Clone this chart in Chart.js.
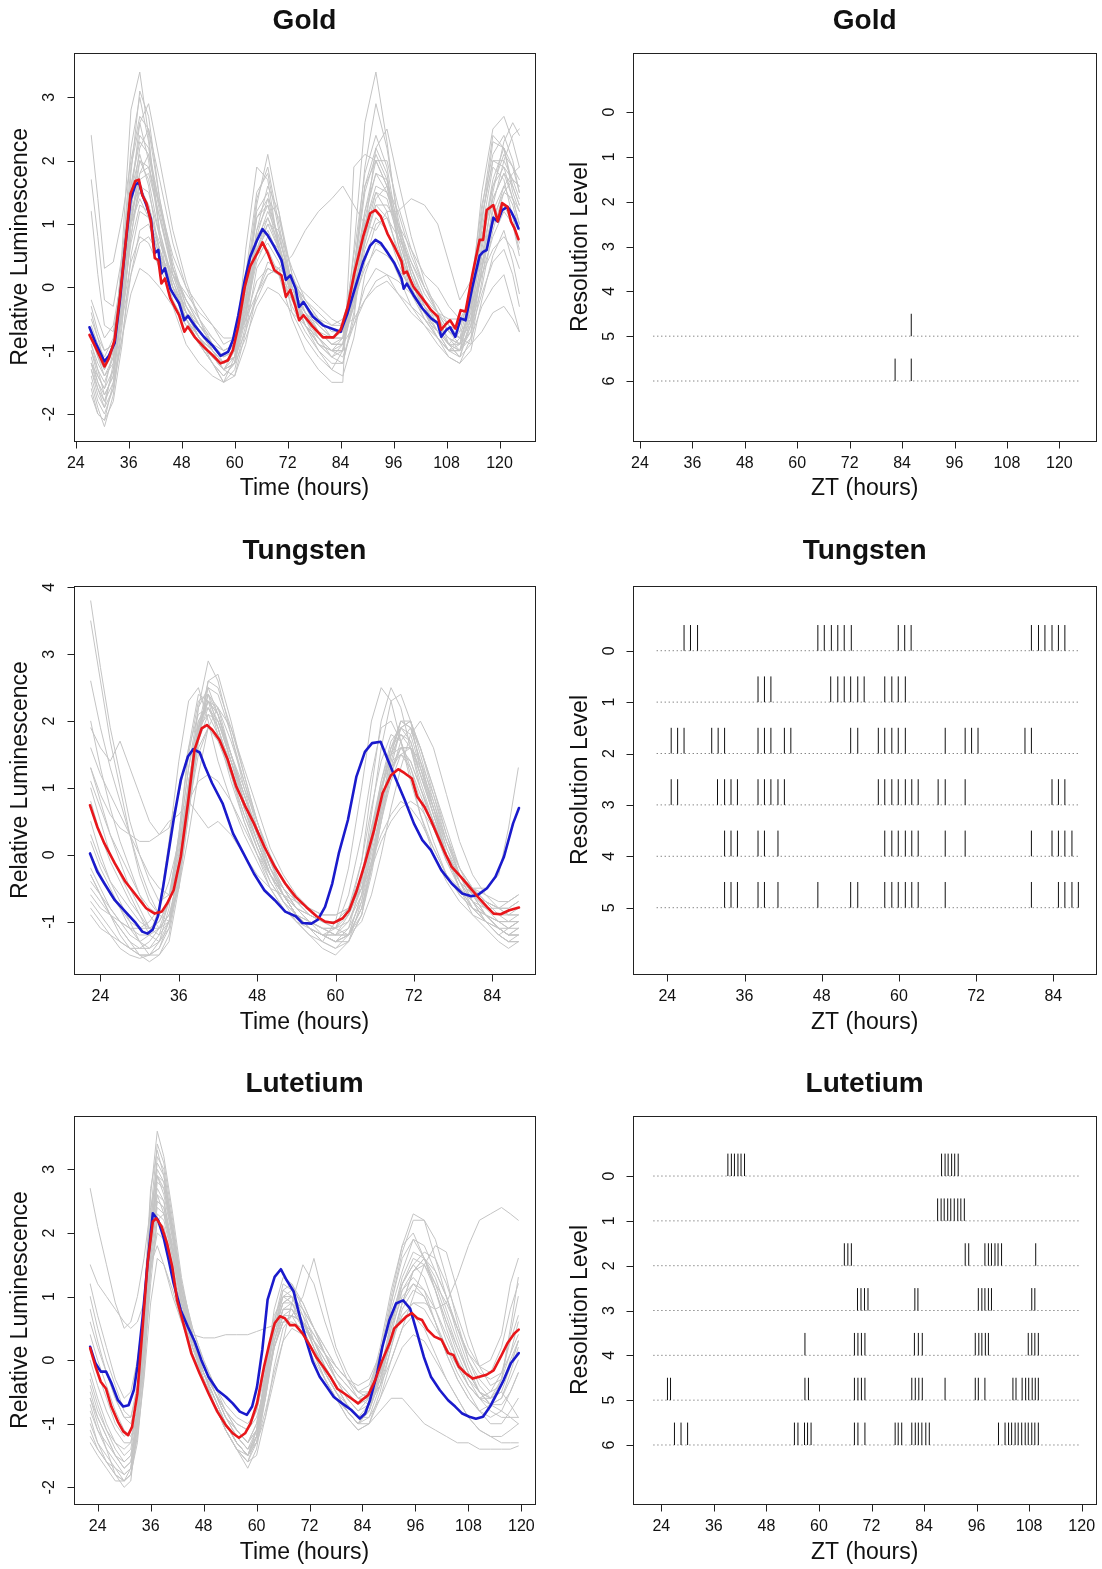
<!DOCTYPE html>
<html>
<head>
<meta charset="utf-8">
<title>Luminescence rhythms and resolution levels</title>
<script src="https://cdn.jsdelivr.net/npm/chart.js@4.4.1/dist/chart.umd.min.js"></script>
<style>
  html, body { margin: 0; padding: 0; background: #ffffff; }
  #figure { position: relative; width: 1102px; height: 1569px; overflow: hidden; }
  #figure canvas { position: absolute; left: 0; top: 0; }
</style>
</head>
<body>
<div id="figure"></div>
<script>
// ---------------- axis tick labels ----------------
const hourTicks120 = [24, 36, 48, 60, 72, 84, 96, 108, 120];
const hourTicks84 = [24, 36, 48, 60, 72, 84];
const lumTicksGold = [-2, -1, 0, 1, 2, 3];
const lumTicksTung = [-1, 0, 1, 2, 3, 4];
const lumTicksLut = [-2, -1, 0, 1, 2, 3];
const levelTicks6 = [0, 1, 2, 3, 4, 5, 6];
const levelTicks5 = [0, 1, 2, 3, 4, 5];

// ---------------- Gold: luminescence traces ----------------
const goldMeanHours = [27.1,28.5,30.5,31.5,32.8,34.0,35.2,36.4,37.5,38.3,39.1,40.0,41.0,41.9,42.7,43.4,44.2,45.4,46.5,47.4,48.6,49.4,50.9,53.0,55.0,56.8,58.5,59.6,60.8,62.3,63.5,65.1,66.3,67.5,69.0,70.6,71.6,72.6,73.8,74.6,75.6,77.7,80.0,82.4,84.0,85.6,87.1,89.1,90.7,91.9,93.1,94.6,96.2,97.8,98.3,99.0,100.5,102.5,104.5,106.0,106.8,108.0,108.8,110.0,111.2,112.3,113.9,115.5,116.3,117.1,118.6,119.6,120.6,121.8,122.6,123.4,124.3];
const goldRed = [-0.75,-0.95,-1.25,-1.12,-0.83,-0.15,0.64,1.48,1.68,1.70,1.45,1.33,1.05,0.46,0.43,0.06,0.14,-0.17,-0.32,-0.44,-0.70,-0.62,-0.78,-0.94,-1.07,-1.20,-1.15,-0.99,-0.62,0.01,0.33,0.54,0.71,0.54,0.27,0.19,-0.15,-0.04,-0.31,-0.52,-0.44,-0.62,-0.79,-0.79,-0.67,-0.31,0.22,0.80,1.17,1.22,1.12,0.85,0.64,0.41,0.22,0.25,0.01,-0.17,-0.36,-0.46,-0.67,-0.57,-0.52,-0.65,-0.36,-0.38,0.22,0.75,0.75,1.22,1.30,1.04,1.33,1.27,1.04,0.93,0.76];
const goldBlue = [-0.63,-0.88,-1.17,-1.08,-0.88,-0.20,0.64,1.38,1.62,1.66,1.46,1.30,1.08,0.54,0.59,0.22,0.30,-0.02,-0.15,-0.25,-0.52,-0.45,-0.60,-0.78,-0.92,-1.08,-1.02,-0.83,-0.45,0.12,0.48,0.75,0.92,0.82,0.64,0.43,0.12,0.19,-0.02,-0.31,-0.23,-0.46,-0.60,-0.66,-0.70,-0.40,-0.05,0.40,0.66,0.75,0.70,0.55,0.38,0.14,-0.02,0.06,-0.12,-0.33,-0.49,-0.56,-0.78,-0.67,-0.63,-0.78,-0.49,-0.52,0.02,0.50,0.56,0.59,1.10,1.04,1.22,1.27,1.20,1.09,0.93];

const goldSampleHours = [27.5,29,30.5,32.5,34.5,36.5,38.5,40.5,43,46,49,52,55,57.5,60,62.5,65,67.5,70,73,76,79,82,84.5,87,89.5,92,94.5,97,100,103,106,108.5,111,113.5,116,118.5,121,123,124.5];
const goldSamples = [
  [-1.3,-1.7,-1.9,-1.2,0.6,2.8,3.4,2.4,0.8,-0.3,-0.9,-1.2,-1.4,-1.5,-1.1,0.6,1.9,1.7,0.6,-0.4,-0.8,-1.1,-1.3,-1.0,0.6,2.6,3.4,2.3,1.0,0.0,-0.5,-0.8,-1.0,-0.9,-0.2,1.5,2.5,2.7,2.3,1.9],
  [-1.0,-1.4,-1.6,-1.0,0.4,2.2,3.0,2.3,0.9,0.1,-0.5,-0.9,-1.2,-1.4,-1.2,0.2,1.5,1.8,0.9,-0.1,-0.6,-0.9,-1.0,-0.8,0.5,1.8,2.4,1.9,0.9,0.2,-0.3,-0.6,-0.9,-1.0,-0.4,1.0,2.3,2.2,1.6,1.3],
  [2.4,1.4,0.3,0.4,1.1,2.0,2.7,2.5,1.4,0.4,-0.3,-0.7,-1.0,-1.2,-1.0,-0.1,1.1,1.3,0.6,-0.2,-0.6,-0.9,-1.0,-0.9,0.2,1.5,2.1,1.7,0.8,0.1,-0.4,-0.7,-0.9,-0.7,0.0,1.3,2.1,2.4,2.0,1.5],
  [1.7,0.8,-0.2,-0.3,0.5,1.6,2.3,2.1,1.2,0.2,-0.4,-0.8,-1.1,-1.3,-1.1,0.0,1.2,1.5,0.7,-0.1,-0.5,-0.9,-1.1,-0.9,0.3,1.6,2.2,1.8,0.7,-0.1,-0.5,-0.8,-1.0,-0.8,-0.1,1.1,2.0,2.0,1.7,1.4],
  [1.2,0.2,-0.6,-0.7,0.1,1.0,1.8,2.1,1.3,0.3,-0.2,-0.6,-0.9,-1.1,-0.9,-0.2,0.8,1.1,0.6,0.0,-0.4,-0.7,-0.8,-0.6,0.2,1.2,1.8,1.5,0.9,0.3,-0.2,-0.5,-0.7,-0.6,-0.2,0.8,1.6,1.9,1.7,1.6],
  [-0.9,-1.2,-1.4,-1.1,-0.4,0.4,0.8,0.7,0.3,-0.1,-0.4,-0.6,-0.8,-1.0,-0.9,-0.5,0.1,0.3,0.2,-0.1,-0.3,-0.5,-0.6,-0.6,-0.2,0.3,0.6,0.5,0.3,0.0,-0.2,-0.4,-0.5,-0.5,-0.3,0.2,0.6,0.8,0.6,0.3],
  [-1.1,-1.5,-1.8,-1.5,-0.8,-0.1,0.3,0.2,0.0,-0.3,-0.6,-0.9,-1.1,-1.3,-1.2,-0.8,-0.3,0.0,-0.1,-0.4,-0.6,-0.8,-1.0,-1.1,-0.6,0.0,0.3,0.2,-0.1,-0.4,-0.6,-0.8,-1.0,-1.0,-0.8,-0.3,0.0,0.2,-0.3,-0.7],
  [-1.3,-1.6,-1.8,-1.3,-0.2,1.0,1.4,1.1,0.5,0.0,-0.3,-0.7,-0.9,-1.0,-0.9,-0.5,-0.1,0.2,0.3,0.5,0.9,1.2,1.4,1.6,1.3,1.0,0.9,1.2,1.2,1.4,1.3,1.0,0.4,-0.2,0.1,0.8,1.4,1.8,1.6,1.3],
  [-1.2,-1.6,-1.9,-1.6,-0.5,0.8,1.6,1.5,0.8,0.1,-0.4,-0.8,-1.1,-1.3,-1.4,-0.7,0.3,0.6,0.2,-0.5,-1.0,-1.3,-1.5,-1.5,1.9,2.1,2.0,1.6,0.9,0.3,-0.3,-0.7,-1.0,-1.1,-0.5,0.7,1.7,2.2,1.9,1.5],
  [-0.6,-0.9,-1.1,-0.8,0.3,1.6,2.4,2.2,1.3,0.3,-0.3,-0.6,-0.9,-1.1,-1.0,-0.2,0.9,1.3,0.8,0.1,-0.3,-0.6,-0.8,-0.7,0.1,1.1,1.8,1.7,1.0,0.4,-0.1,-0.4,-0.7,-0.8,-0.4,0.6,1.6,2.1,1.9,1.7],
  [-0.3,-0.7,-1.0,-0.9,-0.3,0.7,1.3,1.2,0.7,0.2,-0.2,-0.5,-0.8,-1.0,-0.9,-0.4,0.4,0.8,0.6,0.1,-0.2,-0.5,-0.7,-0.7,-0.3,0.4,1.0,1.1,0.8,0.4,0.0,-0.3,-0.6,-0.7,-0.5,0.2,0.8,1.2,1.0,0.5],
  [-1.5,-1.9,-2.2,-1.7,-0.6,1.0,2.0,1.9,1.1,0.2,-0.4,-0.8,-1.2,-1.5,-1.3,-0.6,0.6,1.1,0.7,-0.1,-0.6,-1.0,-1.2,-1.2,-0.4,0.8,1.5,1.4,0.8,0.1,-0.4,-0.8,-1.1,-1.2,-0.8,0.3,1.2,1.6,1.3,0.9],
  [-0.9,-1.3,-1.5,-1.1,0.0,1.3,2.0,1.7,0.8,0.0,-0.5,-0.9,-1.2,-1.4,-1.2,-0.4,0.7,1.2,0.8,0.0,-0.5,-0.8,-1.0,-1.0,-0.2,1.0,1.6,1.5,1.0,0.3,-0.2,-0.6,-0.9,-1.1,-0.6,0.5,1.4,1.8,1.4,1.0],
  [-0.5,-0.8,-1.0,-0.9,-0.5,0.2,0.7,0.8,0.5,0.2,-0.1,-0.4,-0.6,-0.8,-0.8,-0.6,-0.2,0.2,0.3,0.1,-0.1,-0.3,-0.5,-0.6,-0.5,-0.2,0.1,0.2,0.1,-0.1,-0.3,-0.5,-0.7,-0.8,-0.9,-0.7,-0.4,-0.3,-0.5,-0.7],
  [-1.2,-1.4,-1.6,-1.3,-0.3,1.2,2.2,2.5,1.7,0.7,0.0,-0.5,-0.9,-1.2,-1.1,-0.3,0.9,1.6,1.2,0.2,-0.3,-0.7,-0.9,-0.9,0.0,1.2,2.0,2.0,1.3,0.6,0.0,-0.4,-0.7,-0.9,-0.7,0.3,1.5,2.3,2.6,2.4],
  [-0.8,-1.0,-1.3,-1.0,0.2,1.5,2.1,1.6,0.5,-0.2,-0.6,-0.9,-1.1,-1.3,-1.0,0.1,1.1,1.4,0.7,-0.2,-0.6,-0.8,-1.0,-1.0,-0.1,1.0,1.5,1.2,0.5,-0.1,-0.4,-0.6,-0.8,-0.9,-0.3,0.9,1.9,1.7,1.1,0.7],
  [-1.4,-1.8,-2.0,-1.6,-0.8,0.2,0.9,1.0,0.5,-0.1,-0.5,-0.8,-1.0,-1.2,-1.1,-0.7,-0.1,0.3,0.2,-0.2,-0.5,-0.7,-0.9,-0.9,-0.6,-0.2,0.0,0.1,-0.1,-0.3,-0.5,-0.7,-0.9,-1.0,-0.7,-0.1,0.4,0.6,0.2,-0.3],
  [-0.2,-0.5,-0.8,-0.6,0.2,1.1,1.8,1.9,1.3,0.5,0.0,-0.3,-0.6,-0.9,-0.8,-0.2,0.6,1.0,0.6,0.1,-0.2,-0.4,-0.6,-0.5,0.0,0.7,1.3,1.3,1.0,0.6,0.2,0.0,-0.3,-0.5,-0.2,0.5,1.1,1.5,1.4,1.2],
  [-1.6,-2.0,-2.1,-1.5,-0.3,1.4,2.6,2.9,2.0,0.9,0.1,-0.5,-1.0,-1.3,-1.2,-0.5,0.8,1.4,1.1,0.2,-0.4,-0.8,-1.1,-1.2,-0.5,0.9,2.2,2.5,1.7,0.8,0.1,-0.4,-0.9,-1.1,-0.9,0.1,1.3,2.0,2.4,2.5],
  [-0.7,-1.1,-1.4,-1.2,-0.1,1.0,1.5,1.3,0.6,-0.1,-0.5,-0.8,-1.0,-1.2,-1.1,-0.3,0.5,0.7,0.4,-0.1,-0.4,-0.6,-0.8,-0.8,-0.3,0.6,1.1,0.9,0.4,-0.1,-0.4,-0.6,-0.8,-0.9,-0.5,0.4,1.0,1.3,1.0,0.6],
  [-1.0,-1.3,-1.7,-1.4,-0.2,1.8,3.1,2.7,1.4,0.3,-0.4,-0.8,-1.1,-1.3,-1.2,-0.2,1.3,2.1,1.2,0.0,-0.6,-0.9,-1.1,-1.0,0.2,1.9,2.9,2.2,1.1,0.2,-0.4,-0.7,-1.0,-1.0,-0.3,1.2,2.4,2.2,1.5,1.2],
  [-0.4,-0.8,-1.2,-1.0,0.0,1.2,1.6,1.3,0.6,0.0,-0.4,-0.7,-1.0,-1.2,-1.1,-0.4,0.6,0.9,0.5,-0.1,-0.4,-0.7,-0.9,-0.9,-0.3,0.8,1.3,1.1,0.6,0.1,-0.3,-0.6,-0.8,-1.0,-0.6,0.3,1.0,1.6,1.8,1.9],
  [-1.7,-2.0,-2.1,-1.8,-0.9,0.5,1.2,1.1,0.6,0.0,-0.5,-0.9,-1.2,-1.5,-1.4,-0.9,-0.1,0.4,0.3,-0.3,-0.7,-1.0,-1.3,-1.4,-0.8,0.2,0.7,0.6,0.2,-0.3,-0.6,-0.9,-1.1,-1.2,-1.0,-0.2,0.5,0.9,0.4,-0.1],
  [-0.8,-1.1,-1.3,-0.9,0.4,1.9,2.6,2.0,0.9,0.0,-0.5,-0.8,-1.0,-1.2,-1.0,0.0,1.4,1.9,1.0,0.0,-0.4,-0.7,-0.9,-0.8,0.3,1.6,2.0,1.6,0.7,0.0,-0.4,-0.7,-0.9,-0.9,-0.2,1.1,2.0,1.9,1.4,1.0],
  [-1.2,-1.5,-1.7,-1.4,-0.4,0.8,1.7,1.8,1.1,0.3,-0.2,-0.6,-0.9,-1.1,-1.0,-0.4,0.5,1.0,0.9,0.3,-0.2,-0.5,-0.8,-0.8,-0.2,0.7,1.4,1.6,1.2,0.5,0.0,-0.4,-0.6,-0.8,-0.6,0.0,0.9,1.5,1.7,1.6]
];

// ---------------- Tungsten: luminescence traces ----------------
const tungRedHours = [22.4,23.5,24.6,26.2,27.8,29.4,31.0,32.3,33.4,34.2,35.2,36.3,37.4,38.4,39.5,40.3,41.1,42.2,43.5,44.8,46.2,47.5,49.1,50.7,52.3,53.9,55.5,57.1,58.4,59.7,61.1,62.1,63.2,64.5,65.9,67.2,68.5,69.6,70.6,71.7,72.5,73.6,74.6,75.7,76.8,77.8,79.2,80.5,81.8,83.2,84.2,85.3,86.6,88.1];
const tungRed = [0.74,0.42,0.17,-0.13,-0.40,-0.60,-0.80,-0.88,-0.85,-0.73,-0.53,-0.03,0.77,1.57,1.89,1.94,1.87,1.72,1.42,1.02,0.72,0.47,0.12,-0.18,-0.43,-0.63,-0.78,-0.92,-1.00,-1.02,-0.95,-0.83,-0.55,-0.13,0.37,0.92,1.19,1.28,1.22,1.14,0.87,0.72,0.52,0.27,0.02,-0.18,-0.33,-0.48,-0.63,-0.78,-0.88,-0.89,-0.83,-0.79];
const tungBlueHours = [22.4,23.5,24.6,26.2,27.8,29.4,30.4,31.2,32.0,32.8,33.6,34.4,35.2,36.3,37.4,38.2,39.2,40.0,41.1,42.7,44.3,45.9,47.5,49.1,50.7,52.3,53.9,54.9,56.3,57.3,58.4,59.5,60.5,61.9,63.2,64.5,65.6,66.9,68.0,69.3,70.6,72.0,73.3,74.6,76.2,77.8,79.4,80.8,81.8,83.2,84.5,85.8,87.2,88.1];
const tungBlue = [0.02,-0.25,-0.43,-0.68,-0.85,-1.02,-1.15,-1.18,-1.12,-0.92,-0.48,0.02,0.52,1.12,1.47,1.58,1.53,1.32,1.07,0.77,0.32,0.02,-0.28,-0.53,-0.68,-0.85,-0.92,-1.02,-1.03,-0.97,-0.78,-0.43,0.02,0.52,1.17,1.54,1.67,1.69,1.42,1.12,0.82,0.47,0.22,0.07,-0.23,-0.43,-0.58,-0.62,-0.60,-0.50,-0.33,-0.03,0.47,0.70];

const tungSampleHours = [22.5,24,25.5,27,28.5,30,31.5,33,34.5,36,37.5,39,40.5,42,44,46,48,50,52,54,56,58,60,62,64,65.5,67,68.5,70,71.5,73,75,77,79,81,83,85,86.5,88];
const tungSamples = [
  [3.8,2.8,1.9,1.2,0.5,0.0,-0.4,-0.7,-0.6,0.2,1.3,2.2,2.5,2.1,1.4,0.7,0.1,-0.4,-0.7,-0.9,-1.0,-1.1,-1.1,-0.8,-0.1,0.7,1.4,1.8,1.7,1.3,0.8,0.2,-0.3,-0.6,-0.8,-0.9,-1.0,-1.0,-0.9],
  [3.5,2.6,1.7,1.0,0.3,-0.3,-0.7,-0.9,-0.7,0.3,1.6,2.4,2.3,1.8,1.1,0.5,0.0,-0.5,-0.8,-1.0,-1.1,-1.2,-1.1,-0.6,0.3,1.2,1.9,2.0,1.7,1.2,0.6,0.0,-0.4,-0.7,-0.9,-1.0,-1.1,-1.2,-1.1],
  [2.6,1.9,1.3,0.8,0.3,-0.2,-0.6,-0.9,-1.0,-0.5,0.6,1.8,2.5,2.4,1.8,1.1,0.4,-0.2,-0.6,-0.9,-1.1,-1.2,-1.3,-1.2,-0.8,-0.1,0.7,1.5,2.0,1.9,1.4,0.7,0.0,-0.5,-0.8,-1.0,-1.2,-1.1,-1.0],
  [1.9,1.6,1.4,1.7,1.3,0.9,0.5,0.3,0.4,0.9,1.6,2.1,2.2,1.9,1.3,0.7,0.2,-0.3,-0.6,-0.8,-0.9,-1.0,-1.0,-0.8,-0.3,0.4,1.0,1.4,1.5,1.3,0.9,0.4,-0.1,-0.4,-0.6,-0.7,-0.8,-0.8,-0.7],
  [1.3,0.9,0.6,0.4,0.3,0.2,0.2,0.3,0.5,0.6,0.8,0.6,0.4,0.5,0.3,0.0,-0.3,-0.5,-0.6,-0.7,-0.8,-0.9,-0.9,-0.8,-0.5,-0.1,0.3,0.6,0.8,0.7,0.5,0.1,-0.3,-0.5,-0.7,-0.8,-0.8,-0.7,-0.6],
  [1.3,0.8,0.3,-0.1,-0.5,-0.8,-1.1,-1.2,-1.0,-0.2,1.0,2.0,2.3,2.0,1.4,0.8,0.2,-0.3,-0.6,-0.9,-1.1,-1.3,-1.4,-1.2,-0.6,0.2,1.0,1.6,1.9,1.8,1.3,0.7,0.1,-0.3,-0.6,-0.8,-1.0,-1.1,-1.0],
  [0.5,0.0,-0.4,-0.7,-1.0,-1.3,-1.5,-1.5,-1.3,-0.5,0.7,1.8,2.4,2.2,1.5,0.8,0.2,-0.3,-0.7,-1.0,-1.2,-1.4,-1.5,-1.3,-0.7,0.1,0.9,1.6,2.0,1.9,1.4,0.7,0.0,-0.5,-0.9,-1.1,-1.3,-1.4,-1.3],
  [-0.8,-1.0,-1.2,-1.4,-1.5,-1.55,-1.5,-1.3,-0.8,0.2,1.3,2.0,2.2,1.9,1.2,0.5,0.0,-0.4,-0.7,-0.9,-1.1,-1.2,-1.3,-1.2,-0.6,0.2,1.0,1.5,1.8,1.7,1.2,0.6,0.0,-0.4,-0.7,-0.9,-1.1,-1.2,-1.2],
  [0.2,-0.2,-0.5,-0.8,-1.1,-1.3,-1.4,-1.3,-1.0,-0.2,1.0,2.2,2.9,2.6,1.8,1.0,0.3,-0.3,-0.6,-0.9,-1.1,-1.2,-1.3,-1.1,-0.4,0.6,1.6,2.3,2.4,2.0,1.3,0.6,0.0,-0.5,-0.8,-1.0,-1.1,-1.2,-1.1],
  [-0.2,-0.5,-0.8,-1.0,-1.2,-1.3,-1.2,-0.8,0.2,1.4,2.3,2.5,2.0,1.4,0.8,0.3,-0.1,-0.5,-0.8,-1.0,-1.2,-1.3,-1.0,-0.2,1.0,2.0,2.5,2.3,1.7,1.1,0.6,0.1,-0.3,-0.6,-0.8,-0.9,-1.0,-1.0,-1.0],
  [0.8,0.3,-0.1,-0.4,-0.7,-0.9,-1.1,-1.1,-0.9,-0.3,0.8,1.7,2.1,2.0,1.5,1.0,0.5,0.0,-0.4,-0.7,-0.9,-1.0,-1.1,-1.0,-0.6,0.0,0.7,1.3,1.6,1.6,1.3,0.8,0.2,-0.2,-0.5,-0.7,-0.8,-0.8,-0.7],
  [-0.4,-0.6,-0.8,-1.0,-1.1,-1.2,-1.2,-1.1,-0.9,-0.5,0.3,1.2,1.9,2.2,1.9,1.3,0.7,0.1,-0.3,-0.6,-0.8,-1.0,-1.1,-1.2,-1.0,-0.6,0.0,0.7,1.3,1.8,2.0,1.6,0.9,0.2,-0.3,-0.6,-0.8,-0.9,-0.9],
  [0.3,-0.1,-0.4,-0.6,-0.8,-1.0,-1.1,-1.0,-0.7,0.0,1.1,1.9,2.1,1.8,1.2,0.6,0.1,-0.3,-0.6,-0.8,-1.0,-1.1,-1.1,-0.9,-0.4,0.3,1.0,1.5,1.6,1.4,1.0,0.5,0.0,-0.3,-0.5,-0.5,-0.3,0.4,1.3],
  [-0.6,-0.8,-0.9,-1.0,-1.1,-1.1,-1.0,-0.8,-0.4,0.2,0.8,1.1,1.2,1.1,0.8,0.4,0.0,-0.3,-0.5,-0.7,-0.8,-0.9,-0.9,-0.8,-0.5,-0.2,0.2,0.5,0.7,0.8,0.7,0.4,0.0,-0.3,-0.5,-0.6,-0.7,-0.7,-0.6],
  [1.0,0.5,0.0,-0.3,-0.6,-0.9,-1.2,-1.3,-1.1,-0.3,0.9,1.9,2.4,2.1,1.5,0.9,0.3,-0.2,-0.6,-0.9,-1.1,-1.2,-1.3,-1.3,-0.9,-0.2,0.6,1.4,1.9,2.0,1.6,0.9,0.2,-0.3,-0.7,-1.0,-1.2,-1.3,-1.3],
  [-0.3,-0.6,-0.9,-1.2,-1.4,-1.5,-1.5,-1.4,-1.0,-0.2,0.7,1.5,1.9,1.7,1.2,0.6,0.1,-0.3,-0.6,-0.9,-1.0,-1.1,-1.2,-1.1,-0.7,-0.1,0.6,1.2,1.6,1.6,1.2,0.7,0.2,-0.3,-0.6,-0.9,-1.1,-1.2,-1.2],
  [1.6,1.2,0.9,0.6,0.3,0.0,-0.3,-0.5,-0.6,-0.2,0.8,1.8,2.3,2.1,1.5,0.9,0.3,-0.2,-0.5,-0.8,-1.0,-1.1,-1.2,-1.2,-0.8,-0.2,0.5,1.1,1.5,1.6,1.4,0.9,0.3,-0.2,-0.5,-0.7,-0.9,-1.0,-1.0],
  [-0.5,-0.7,-0.9,-1.1,-1.3,-1.4,-1.4,-1.2,-0.7,0.3,1.5,2.3,2.4,1.9,1.3,0.7,0.2,-0.3,-0.6,-0.9,-1.1,-1.2,-1.2,-0.9,-0.1,1.0,2.0,2.5,2.2,1.6,1.0,0.4,-0.1,-0.5,-0.7,-0.9,-1.0,-1.1,-1.1],
  [-0.7,-0.9,-1.1,-1.3,-1.4,-1.5,-1.5,-1.4,-1.1,-0.4,0.6,1.7,2.6,2.7,2.0,1.2,0.5,-0.1,-0.5,-0.8,-1.0,-1.1,-1.2,-1.2,-0.9,-0.3,0.5,1.3,1.9,2.0,1.6,1.0,0.3,-0.3,-0.7,-1.0,-1.2,-1.3,-1.3],
  [0.0,-0.3,-0.6,-0.8,-1.0,-1.1,-1.1,-1.0,-0.7,0.0,1.0,1.8,2.2,2.0,1.4,0.8,0.3,-0.2,-0.5,-0.8,-0.9,-1.0,-1.0,-0.8,-0.3,0.4,1.1,1.6,1.8,1.6,1.1,0.5,0.0,-0.3,-0.5,-0.7,-0.8,-0.9,-0.9],
  [2.0,1.3,0.7,0.2,-0.2,-0.6,-0.9,-1.1,-1.0,-0.4,0.8,1.9,2.3,2.1,1.5,0.9,0.3,-0.2,-0.6,-0.9,-1.1,-1.2,-1.2,-1.0,-0.5,0.3,1.1,1.7,1.9,1.7,1.2,0.6,0.0,-0.4,-0.7,-0.9,-1.1,-1.1,-1.0],
  [-0.9,-1.1,-1.2,-1.3,-1.4,-1.4,-1.3,-1.1,-0.7,0.1,1.1,1.9,2.3,2.2,1.7,1.1,0.5,-0.1,-0.5,-0.8,-1.0,-1.2,-1.3,-1.2,-0.8,-0.2,0.5,1.2,1.7,1.9,1.6,1.0,0.4,-0.2,-0.6,-0.9,-1.1,-1.2,-1.2],
  [1.1,0.7,0.3,0.0,-0.3,-0.6,-0.8,-0.9,-0.7,-0.1,0.9,1.6,1.9,1.8,1.4,0.9,0.4,-0.1,-0.4,-0.7,-0.9,-1.0,-1.0,-0.9,-0.5,0.1,0.8,1.3,1.5,1.4,1.0,0.5,0.0,-0.3,-0.6,-0.8,-0.9,-0.9,-0.8],
  [-0.3,-0.6,-0.9,-1.1,-1.3,-1.5,-1.6,-1.5,-1.2,-0.4,0.8,1.9,2.6,2.5,1.9,1.2,0.5,-0.1,-0.6,-0.9,-1.1,-1.3,-1.4,-1.3,-0.9,-0.2,0.7,1.5,2.0,2.0,1.5,0.8,0.1,-0.4,-0.8,-1.0,-1.2,-1.3,-1.2]
];

// ---------------- Lutetium: luminescence traces ----------------
const lutRedHours = [22.3,23.5,24.7,25.9,27.1,28.6,29.8,30.9,31.8,33.0,34.2,35.3,36.5,37.3,38.5,39.7,40.9,42.0,43.6,45.2,47.1,49.1,51.1,53.1,54.6,56.0,57.4,58.6,60.1,61.7,62.9,64.1,65.3,66.4,67.6,68.8,70.4,72.0,73.5,75.1,76.7,78.3,79.8,81.4,83.0,83.8,85.3,86.9,88.5,90.1,91.2,92.4,94.0,95.2,96.4,97.5,98.7,100.3,101.9,103.4,104.6,105.8,107.4,109.0,110.5,112.1,113.7,115.3,116.8,118.4,119.4];
const lutRed = [0.19,-0.10,-0.34,-0.45,-0.73,-0.97,-1.12,-1.18,-1.05,-0.52,0.53,1.52,2.18,2.23,2.10,1.84,1.47,0.94,0.53,0.11,-0.21,-0.52,-0.81,-1.03,-1.15,-1.22,-1.15,-1.00,-0.68,-0.10,0.26,0.58,0.69,0.66,0.55,0.55,0.42,0.24,0.05,-0.10,-0.26,-0.45,-0.52,-0.60,-0.68,-0.63,-0.55,-0.31,0.00,0.26,0.50,0.58,0.69,0.74,0.66,0.63,0.48,0.37,0.32,0.11,0.08,-0.10,-0.21,-0.29,-0.26,-0.23,-0.16,0.05,0.26,0.42,0.48];
const lutBlueHours = [22.3,23.5,24.7,25.9,27.1,28.6,29.8,31.0,32.2,33.0,34.2,35.3,36.5,37.7,38.9,40.1,41.2,42.8,44.4,46.0,47.5,49.1,51.1,53.1,54.6,56.2,57.8,59.0,60.1,61.3,62.5,64.1,65.5,66.8,68.4,69.6,71.2,72.7,74.3,75.9,77.5,79.4,81.4,83.4,84.6,85.7,87.3,88.5,90.1,91.6,93.2,94.8,96.4,97.9,99.5,101.5,103.4,105.0,106.6,108.2,109.7,111.3,112.9,114.5,116.0,117.6,119.4];
const lutBlue = [0.21,-0.05,-0.18,-0.18,-0.36,-0.63,-0.73,-0.71,-0.47,-0.10,0.68,1.52,2.31,2.20,1.94,1.57,1.21,0.79,0.53,0.29,0.00,-0.26,-0.47,-0.58,-0.68,-0.81,-0.86,-0.73,-0.42,0.16,0.95,1.31,1.43,1.26,1.08,0.74,0.32,-0.02,-0.26,-0.42,-0.58,-0.68,-0.78,-0.92,-0.84,-0.63,-0.21,0.21,0.63,0.89,0.94,0.81,0.42,0.05,-0.26,-0.47,-0.63,-0.73,-0.84,-0.89,-0.92,-0.89,-0.73,-0.52,-0.31,-0.05,0.11];

const lutSampleHours = [22.3,24,26,28,30,31.5,33,34.5,36,37.5,39,41,43,45.5,48,50.5,53,55.5,58,60,62,64,66,68,70.5,73,75.5,78,80.5,83,85.5,88,90.5,93,95.5,98,100.5,103,105.5,108,110.5,113,115.5,117.5,119.3];
const lutSamples = [
  [2.7,2.1,1.5,0.9,0.5,0.6,1.0,1.6,2.4,2.9,2.6,1.9,1.2,0.5,0.0,-0.4,-0.7,-0.9,-1.0,-0.8,-0.2,0.4,0.8,0.9,0.7,0.4,0.1,-0.2,-0.4,-0.6,-0.5,0.1,0.8,1.4,1.9,1.8,1.4,1.0,0.5,0.0,-0.3,-0.5,-0.4,-0.1,0.3],
  [-0.6,-1.0,-1.4,-1.8,-2.0,-1.9,-1.0,0.6,2.6,3.6,3.2,2.3,1.3,0.4,-0.2,-0.7,-1.1,-1.4,-1.6,-1.2,-0.3,0.6,1.2,1.1,0.7,0.2,-0.2,-0.5,-0.7,-0.9,-0.8,-0.2,0.6,1.2,1.5,1.3,0.8,0.3,-0.1,-0.4,-0.6,-0.5,-0.2,0.3,0.7],
  [-0.9,-1.3,-1.6,-1.8,-1.9,-1.7,-0.8,0.9,2.7,3.3,2.9,2.0,1.1,0.3,-0.2,-0.6,-1.0,-1.3,-1.5,-1.1,-0.2,0.7,1.0,0.9,0.5,0.1,-0.3,-0.6,-0.8,-1.0,-0.7,0.0,0.9,1.6,1.9,1.6,1.1,0.5,0.0,-0.4,-0.6,-0.8,-0.9,-0.9,-0.9],
  [1.5,1.2,1.0,0.8,0.6,0.5,0.6,0.9,1.5,1.8,1.5,1.0,0.6,0.4,0.35,0.35,0.4,0.4,0.4,0.45,0.5,0.55,0.6,0.6,0.5,0.3,0.1,-0.1,-0.3,-0.4,-0.3,0.1,0.6,1.1,1.4,1.5,1.2,0.9,0.5,0.1,-0.1,0.0,0.4,1.2,1.6],
  [1.2,0.7,0.2,-0.3,-0.6,-0.5,0.0,0.8,2.0,2.6,2.3,1.6,0.9,0.3,-0.1,-0.5,-0.8,-1.0,-1.1,-0.8,-0.1,0.5,0.9,1.0,0.8,0.5,0.2,-0.1,-0.3,-0.5,-0.5,-0.2,0.3,0.7,0.9,0.9,0.8,0.9,1.3,1.8,2.2,2.3,2.4,2.3,2.2],
  [-1.2,-1.4,-1.6,-1.7,-1.8,-1.7,-1.2,-0.3,0.9,1.6,1.5,1.1,0.6,0.1,-0.3,-0.7,-1.0,-1.3,-1.5,-1.3,-0.8,-0.2,0.3,0.5,0.4,0.1,-0.2,-0.5,-0.8,-1.0,-1.0,-0.8,-0.6,-0.6,-0.8,-1.0,-1.1,-1.2,-1.3,-1.3,-1.4,-1.4,-1.4,-1.4,-1.35],
  [-0.3,-0.7,-1.1,-1.4,-1.6,-1.5,-0.9,0.3,2.0,3.0,2.8,2.0,1.1,0.3,-0.3,-0.7,-1.1,-1.4,-1.5,-1.1,-0.2,0.8,1.3,1.2,0.8,0.3,-0.1,-0.4,-0.7,-0.9,-0.8,-0.3,0.5,1.2,1.6,1.5,1.1,0.6,0.1,-0.3,-0.6,-0.7,-0.6,-0.2,0.2],
  [-0.5,-0.9,-1.2,-1.5,-1.7,-1.6,-1.0,0.2,1.8,2.8,2.7,2.0,1.2,0.5,0.0,-0.4,-0.8,-1.1,-1.3,-1.0,-0.3,0.5,1.0,1.1,0.9,0.5,0.1,-0.3,-0.6,-0.8,-0.6,0.1,1.0,1.8,2.3,2.2,1.6,1.0,0.4,-0.1,-0.5,-0.7,-0.6,-0.3,0.0],
  [0.4,0.0,-0.4,-0.8,-1.1,-1.2,-0.9,-0.1,1.2,2.2,2.3,1.8,1.1,0.4,-0.1,-0.5,-0.9,-1.2,-1.4,-1.3,-0.9,-0.3,0.3,0.9,1.5,1.2,0.6,0.1,-0.3,-0.6,-0.7,-0.4,0.2,0.9,1.4,1.6,1.4,1.0,0.5,0.1,-0.2,-0.3,-0.2,0.1,0.4],
  [-1.0,-1.3,-1.5,-1.7,-1.9,-1.8,-1.1,0.2,2.1,3.2,3.0,2.1,1.1,0.3,-0.3,-0.7,-1.1,-1.4,-1.6,-1.3,-0.5,0.5,1.0,1.0,0.6,0.2,-0.2,-0.5,-0.8,-1.0,-0.9,-0.4,0.4,1.1,1.3,1.1,0.6,0.1,-0.3,-0.6,-0.8,-0.9,-0.8,-0.5,-0.2],
  [-0.8,-1.1,-1.3,-1.5,-1.6,-1.5,-0.9,0.1,1.6,2.5,2.4,1.7,0.9,0.2,-0.3,-0.7,-1.0,-1.3,-1.5,-1.2,-0.5,0.3,0.8,0.8,0.5,0.1,-0.3,-0.6,-0.8,-1.0,-0.8,-0.3,0.3,0.9,1.2,1.1,0.8,0.4,0.0,-0.3,-0.5,-0.6,-0.5,-0.7,-0.9],
  [1.0,0.5,0.0,-0.4,-0.8,-0.9,-0.5,0.3,1.4,2.0,1.9,1.4,0.8,0.2,-0.2,-0.5,-0.8,-1.0,-1.1,-0.9,-0.4,0.2,0.6,0.7,0.6,0.3,0.0,-0.3,-0.5,-0.7,-0.6,-0.2,0.3,0.7,0.9,0.8,0.5,0.2,-0.1,-0.4,-0.6,-0.6,-0.4,0.0,0.3],
  [-0.2,-0.6,-1.0,-1.3,-1.5,-1.4,-0.8,0.5,2.2,3.1,2.9,2.1,1.2,0.4,-0.2,-0.6,-1.0,-1.3,-1.5,-1.2,-0.4,0.5,0.9,0.9,0.6,0.2,-0.1,-0.4,-0.7,-0.9,-0.7,0.0,0.9,1.7,2.2,2.2,1.9,1.3,0.6,0.0,-0.4,-0.6,-0.5,-0.1,0.3],
  [-1.3,-1.5,-1.7,-1.9,-1.9,-1.8,-1.2,-0.1,1.6,2.6,2.5,1.8,1.0,0.3,-0.2,-0.6,-1.0,-1.3,-1.5,-1.3,-0.6,0.3,0.8,0.8,0.5,0.1,-0.3,-0.6,-0.9,-1.1,-1.0,-0.6,0.0,0.5,0.7,0.5,0.1,-0.3,-0.6,-0.9,-1.1,-1.2,-1.2,-1.1,-1.0],
  [0.6,0.2,-0.2,-0.6,-0.9,-1.0,-0.6,0.3,1.5,2.3,2.2,1.6,0.9,0.3,-0.1,-0.5,-0.8,-1.1,-1.3,-1.1,-0.5,0.2,0.6,0.7,0.6,0.4,0.1,-0.2,-0.4,-0.6,-0.6,-0.4,0.0,0.5,1.0,1.5,1.8,1.7,1.1,0.4,-0.1,-0.4,-0.3,0.1,0.6],
  [-0.6,-0.9,-1.2,-1.5,-1.7,-1.6,-1.0,0.1,1.9,2.9,2.7,1.9,1.0,0.2,-0.3,-0.7,-1.1,-1.4,-1.7,-1.4,-0.6,0.3,0.7,0.7,0.4,0.0,-0.3,-0.6,-0.9,-1.1,-1.0,-0.5,0.2,0.8,1.1,1.0,0.6,0.2,-0.2,-0.5,-0.8,-1.0,-1.0,-0.8,-0.6],
  [-0.4,-0.8,-1.1,-1.3,-1.4,-1.3,-0.7,0.4,2.0,2.7,2.5,1.7,0.9,0.2,-0.2,-0.6,-1.0,-1.2,-1.4,-1.1,-0.4,0.5,1.1,1.2,0.9,0.5,0.1,-0.3,-0.6,-0.8,-0.7,-0.2,0.5,1.0,1.2,1.0,0.6,0.1,-0.3,-0.6,-0.8,-0.7,-0.3,0.5,1.3],
  [0.0,-0.4,-0.8,-1.1,-1.3,-1.3,-0.8,0.2,1.8,2.5,2.4,1.7,0.9,0.3,-0.1,-0.5,-0.9,-1.1,-1.3,-1.1,-0.5,0.2,0.6,0.7,1.0,1.6,0.9,0.2,-0.2,-0.5,-0.6,-0.3,0.3,0.9,1.4,1.6,1.3,0.8,0.3,-0.2,-0.5,-0.7,-0.7,-0.5,-0.2],
  [-0.7,-1.1,-1.4,-1.6,-1.8,-1.7,-1.0,0.4,2.3,3.4,3.1,2.2,1.2,0.4,-0.2,-0.6,-1.0,-1.3,-1.5,-1.2,-0.4,0.6,1.1,1.0,0.6,0.2,-0.2,-0.5,-0.8,-1.0,-0.8,-0.2,0.6,1.3,1.7,1.6,1.2,0.7,0.2,-0.2,-0.5,-0.6,-0.3,0.4,1.0],
  [0.2,-0.2,-0.6,-1.0,-1.2,-1.1,-0.6,0.4,1.7,2.4,2.3,1.7,1.0,0.3,-0.1,-0.5,-0.9,-1.2,-1.4,-1.2,-0.6,0.2,0.7,0.8,0.6,0.3,0.0,-0.3,-0.5,-0.7,-0.5,0.2,1.1,1.8,2.0,1.6,1.1,0.6,0.2,-0.2,-0.5,-0.7,-0.8,-0.9,-1.0],
  [-1.1,-1.4,-1.6,-1.8,-1.9,-1.8,-1.3,-0.2,1.4,2.2,2.1,1.5,0.8,0.1,-0.3,-0.7,-1.1,-1.4,-1.6,-1.5,-0.9,-0.1,0.5,0.7,0.6,0.3,-0.1,-0.4,-0.7,-0.9,-0.9,-0.6,-0.2,0.2,0.4,0.3,0.0,-0.3,-0.6,-0.9,-1.1,-1.2,-1.3,-1.3,-1.3],
  [0.8,0.3,-0.2,-0.6,-0.9,-0.9,-0.4,0.6,2.0,2.9,2.8,2.0,1.1,0.4,-0.1,-0.5,-0.9,-1.1,-1.3,-1.0,-0.3,0.4,0.9,1.0,0.8,0.5,0.2,-0.1,-0.3,-0.5,-0.4,0.1,0.7,1.2,1.5,1.7,1.6,1.2,0.7,0.2,-0.1,-0.2,0.2,0.8,1.2]
];

// ---------------- detected change times (hours) per resolution level ----------------
const goldLevels = [5, 6];
const goldChanges = [[], [], [], [], [], [86.1], [82.4, 86.1]];
const goldSpan = [27.05, 124.7];

const tungLevels = [0, 1, 2, 3, 4, 5];
const tungChanges = [
  [26.6,27.6,28.7,47.4,48.4,49.5,50.5,51.5,52.6,59.9,60.9,61.9,80.6,81.7,82.7,83.8,84.8,85.8],
  [38.1,39.1,40.1,49.4,50.5,51.5,52.5,53.6,54.6,57.8,58.9,59.9,61.0],
  [24.6,25.6,26.6,30.9,31.9,32.9,38.1,39.1,40.1,42.2,43.2,52.5,53.6,56.8,57.8,58.9,59.9,61.0,67.2,70.3,71.3,72.3,79.6,80.6],
  [24.6,25.6,31.8,32.9,33.9,34.9,38.1,39.1,40.1,41.2,42.2,56.8,57.8,58.9,59.9,61.0,62.0,63.0,66.1,67.2,70.3,83.8,84.8,85.8],
  [32.9,33.9,34.9,38.1,39.1,41.2,57.8,58.9,59.9,61.0,62.0,63.0,67.2,70.3,80.6,83.8,84.8,85.8,86.9],
  [32.9,33.9,34.9,38.1,39.1,41.2,47.4,52.5,53.6,57.8,58.9,59.9,61.0,62.0,63.0,67.2,80.6,84.8,85.8,86.9,87.9]
];
const tungSpan = [22.35, 88.15];

const lutLevels = [0, 1, 2, 3, 4, 5, 6];
const lutChanges = [
  [39.2,40.0,40.7,41.5,42.2,43.0,88.0,88.8,89.5,90.3,91.0,91.8],
  [87.1,87.9,88.6,89.4,90.1,90.9,91.7,92.4,93.2],
  [65.8,66.6,67.4,93.4,94.2,97.9,98.7,99.4,100.2,100.9,101.7,109.5],
  [68.8,69.6,70.4,71.2,81.9,82.6,96.4,97.2,97.9,98.7,99.4,108.6,109.3],
  [56.8,68.1,68.9,69.7,70.5,81.8,82.7,83.6,95.7,96.5,97.2,98.0,98.7,107.8,108.6,109.3,110.1],
  [25.4,26.1,56.8,57.6,68.1,68.9,69.7,70.5,81.2,82.0,82.8,83.6,88.8,95.7,96.4,97.9,104.3,105.0,106.4,107.2,107.9,108.7,109.4,110.1],
  [27.0,28.5,30.0,54.4,55.2,56.7,57.4,58.2,68.1,68.9,70.5,77.4,78.1,78.9,81.2,82.0,82.7,83.5,84.4,85.2,101.0,102.5,103.3,104.0,104.8,105.5,106.3,107.1,107.8,108.6,109.3,110.1]
];
const lutSpan = [22.2, 119.6];

// ---------------- drawing helpers ----------------
const FONT = '"Liberation Sans", Arial, Helvetica, sans-serif';
const PAGE_W = 1102, PAGE_H = 1569;

// R-style frame: box, outward ticks, rotated y labels, titles
const rFrame = {
  id: 'rFrame',
  afterDraw(chart, args, o) {
    const { ctx, chartArea: a } = chart;
    const xs = chart.scales.x, ys = chart.scales.y;
    ctx.save();
    ctx.strokeStyle = '#222';
    ctx.lineWidth = 1;
    const L = Math.round(a.left) + 0.5, R = Math.round(a.right) + 0.5;
    const T = Math.round(a.top) + 0.5, B = Math.round(a.bottom) + 0.5;
    ctx.strokeRect(L, T, R - L, B - T);

    ctx.beginPath();
    o.xTicks.forEach(v => {
      const px = Math.round(xs.getPixelForValue(v)) + 0.5;
      ctx.moveTo(px, B); ctx.lineTo(px, B + 7);
    });
    o.yTicks.forEach(v => {
      const py = Math.round(ys.getPixelForValue(v)) + 0.5;
      ctx.moveTo(L, py); ctx.lineTo(L - 7, py);
    });
    ctx.stroke();

    ctx.fillStyle = '#111';
    ctx.textAlign = 'center';
    ctx.textBaseline = 'middle';
    ctx.font = '16px ' + FONT;
    o.xTicks.forEach(v => ctx.fillText(String(v), xs.getPixelForValue(v), a.bottom + 22.5));
    o.yTicks.forEach(v => {
      ctx.save();
      ctx.translate(a.left - 24, ys.getPixelForValue(v));
      ctx.rotate(-Math.PI / 2);
      ctx.fillText(String(v), 0, 0);
      ctx.restore();
    });

    const cx = (a.left + a.right) / 2;
    ctx.font = 'bold 28px ' + FONT;
    ctx.fillText(o.title, cx, o.titleY);
    ctx.font = '23px ' + FONT;
    ctx.fillText(o.xTitle, cx, a.bottom + 48);
    ctx.save();
    ctx.translate(a.left - 53, (a.top + a.bottom) / 2);
    ctx.rotate(-Math.PI / 2);
    ctx.fillText(o.yTitle, 0, 0);
    ctx.restore();
    ctx.restore();
  }
};

function pairs(hours, values) {
  return hours.map((h, i) => ({ x: h, y: values[i] }));
}

function makeCanvas() {
  const c = document.createElement('canvas');
  c.width = PAGE_W; c.height = PAGE_H;
  c.style.width = PAGE_W + 'px'; c.style.height = PAGE_H + 'px';
  document.getElementById('figure').appendChild(c);
  return c;
}

function baseOptions(p) {
  return {
    responsive: false,
    animation: false,
    devicePixelRatio: 1,
    events: [],
    layout: { padding: { left: p.box[0], top: p.box[1], right: PAGE_W - p.box[2], bottom: PAGE_H - p.box[3] } },
    plugins: {
      legend: { display: false },
      tooltip: { enabled: false },
      rFrame: { xTicks: p.xTicks, yTicks: p.yTicks, title: p.title, titleY: p.titleY, xTitle: p.xTitle, yTitle: p.yTitle }
    },
    scales: {
      x: { type: 'linear', min: p.xRange[0], max: p.xRange[1], display: false },
      y: { type: 'linear', min: p.yRange[0], max: p.yRange[1], reverse: !!p.reverse, display: false }
    }
  };
}

function luminescencePanel(p) {
  const datasets = [];
  datasets.push({ data: pairs(p.redHours, p.red), borderColor: '#e8161b', borderWidth: 2.6, order: 0 });
  datasets.push({ data: pairs(p.blueHours, p.blue), borderColor: '#1a1acc', borderWidth: 2.6, order: 1 });
  p.samples.forEach(s => datasets.push({ data: pairs(p.sampleHours, s), borderColor: '#c4c4c4', borderWidth: 1, order: 2 }));
  datasets.forEach(d => Object.assign(d, { showLine: true, pointRadius: 0, tension: 0, fill: false, borderJoinStyle: 'round', borderCapStyle: 'round' }));
  new Chart(makeCanvas(), { type: 'scatter', data: { datasets }, options: baseOptions(p), plugins: [rFrame] });
}

function levelPanel(p) {
  const datasets = [];
  p.changes.forEach((times, lvl) => {
    if (!times.length) return;
    const pts = [];
    times.forEach(t => { pts.push({ x: t, y: lvl }, { x: t, y: lvl - 0.5 }, { x: t, y: null }); });
    datasets.push({ data: pts, borderColor: '#111', borderWidth: 1, spanGaps: false, order: 0 });
  });
  p.levels.forEach(lvl => {
    datasets.push({ data: [{ x: p.span[0], y: lvl }, { x: p.span[1], y: lvl }], borderColor: '#555', borderWidth: 1, borderDash: [1, 3], order: 1 });
  });
  datasets.forEach(d => Object.assign(d, { showLine: true, pointRadius: 0, tension: 0, fill: false }));
  new Chart(makeCanvas(), { type: 'scatter', data: { datasets }, options: baseOptions(p), plugins: [rFrame] });
}

const leftBox = [73.7, 535.3], rightBox = [633.3, 1096];
const rowTop = [52.7, 585.7, 1115.7], rowBottom = [441, 974.3, 1504.3];

luminescencePanel({
  box: [leftBox[0], rowTop[0], leftBox[1], rowBottom[0]],
  xRange: [23.53, 128.11], yRange: [-2.426, 3.705],
  xTicks: hourTicks120, yTicks: lumTicksGold,
  title: 'Gold', titleY: 21, xTitle: 'Time (hours)', yTitle: 'Relative Luminescence',
  redHours: goldMeanHours, red: goldRed, blueHours: goldMeanHours, blue: goldBlue,
  sampleHours: goldSampleHours, samples: goldSamples
});
levelPanel({
  box: [rightBox[0], rowTop[0], rightBox[1], rowBottom[0]],
  xRange: [22.47, 128.39], yRange: [-1.323, 7.338], reverse: true,
  xTicks: hourTicks120, yTicks: levelTicks6,
  title: 'Gold', titleY: 21, xTitle: 'ZT (hours)', yTitle: 'Resolution Level',
  changes: goldChanges, levels: goldLevels, span: goldSpan
});

luminescencePanel({
  box: [leftBox[0], rowTop[1], leftBox[1], rowBottom[1]],
  xRange: [19.90, 90.60], yRange: [-1.788, 4.025],
  xTicks: hourTicks84, yTicks: lumTicksTung,
  title: 'Tungsten', titleY: 551, xTitle: 'Time (hours)', yTitle: 'Relative Luminescence',
  redHours: tungRedHours, red: tungRed, blueHours: tungBlueHours, blue: tungBlue,
  sampleHours: tungSampleHours, samples: tungSamples
});
levelPanel({
  box: [rightBox[0], rowTop[1], rightBox[1], rowBottom[1]],
  xRange: [18.71, 90.64], yRange: [-1.265, 6.296], reverse: true,
  xTicks: hourTicks84, yTicks: levelTicks5,
  title: 'Tungsten', titleY: 551, xTitle: 'ZT (hours)', yTitle: 'Resolution Level',
  changes: tungChanges, levels: tungLevels, span: tungSpan
});

luminescencePanel({
  box: [leftBox[0], rowTop[2], leftBox[1], rowBottom[2]],
  xRange: [18.57, 123.15], yRange: [-2.267, 3.844],
  xTicks: hourTicks120, yTicks: lumTicksLut,
  title: 'Lutetium', titleY: 1084, xTitle: 'Time (hours)', yTitle: 'Relative Luminescence',
  redHours: lutRedHours, red: lutRed, blueHours: lutBlueHours, blue: lutBlue,
  sampleHours: lutSampleHours, samples: lutSamples
});
levelPanel({
  box: [rightBox[0], rowTop[2], rightBox[1], rowBottom[2]],
  xRange: [17.60, 123.27], yRange: [-1.346, 7.323], reverse: true,
  xTicks: hourTicks120, yTicks: levelTicks6,
  title: 'Lutetium', titleY: 1084, xTitle: 'ZT (hours)', yTitle: 'Resolution Level',
  changes: lutChanges, levels: lutLevels, span: lutSpan
});
</script>
</body>
</html>
